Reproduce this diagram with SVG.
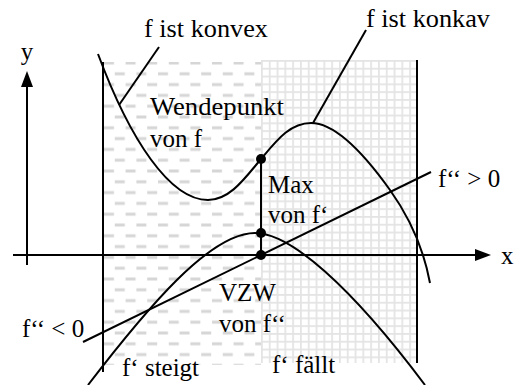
<svg xmlns="http://www.w3.org/2000/svg" width="522" height="385" viewBox="0 0 522 385">
<defs>
<pattern id="dash" patternUnits="userSpaceOnUse" x="103" y="63" width="21.6" height="21.6">
<rect x="1" y="-1.5" width="10" height="3" fill="#d6d6d6"/>
<rect x="1" y="20.1" width="10" height="3" fill="#d6d6d6"/>
<rect x="11.8" y="9.3" width="10" height="3" fill="#d6d6d6"/>
<rect x="-9.8" y="9.3" width="10" height="3" fill="#d6d6d6"/>
</pattern>
<pattern id="grid" patternUnits="userSpaceOnUse" x="261" y="60" width="7.8" height="7.8">
<rect width="7.8" height="7.8" fill="#e4e4e4"/>
<rect x="1.8" y="1.8" width="6" height="6" fill="#ffffff"/>
</pattern>
<marker id="arr" viewBox="0 0 16 12" refX="1" refY="6" markerWidth="16" markerHeight="12" markerUnits="userSpaceOnUse" orient="auto">
<path d="M0,0 L16,6 L0,12 z" fill="#000"/>
</marker>
</defs>
<style>
.ln{fill:none;stroke:#000;stroke-width:2}
.dot{fill:#000}
</style>
<rect width="522" height="385" fill="#fff"/>
<g id="regions">
<rect x="103" y="62" width="158" height="303" fill="url(#dash)"/>
<rect x="261" y="60" width="156" height="303" fill="url(#grid)"/>
</g>
<g id="axes">
<line class="ln" x1="13" y1="255" x2="476" y2="255" marker-end="url(#arr)"/>
<line class="ln" x1="27" y1="265" x2="27" y2="86" marker-end="url(#arr)"/>
<g font-family="Liberation Serif, DejaVu Serif, serif" font-size="25" fill="#000">
<text x="27" y="60" text-anchor="middle">y</text>
<text x="501" y="264">x</text>
</g>
</g>
<g id="connectors">
<line class="ln" x1="103" y1="62" x2="103" y2="372"/>
<line class="ln" x1="417" y1="60" x2="417" y2="363"/>
<line class="ln" x1="159" y1="47" x2="119" y2="105"/>
<line class="ln" x1="366" y1="30" x2="313" y2="123"/>
<line class="ln" x1="261" y1="159" x2="261" y2="255"/>
</g>
<g id="f">
<path class="ln" d="M98,54 C130,140 170,200 208,200 C230,200 245,178 261,159 C277,140 290,123 311,123 C335,123 365,155 390,190 C405,211 422,240 430,283"/>
</g>
<g id="f1">
<path class="ln" d="M88,385 C148,307 210,233 255,233 C290,233 350,285 425,385"/>
</g>
<g id="f2">
<line class="ln" x1="83" y1="342" x2="431" y2="172"/>
</g>
<g id="points">
<circle class="dot" cx="261" cy="159" r="5"/>
<circle class="dot" cx="261" cy="233" r="5"/>
<circle class="dot" cx="261" cy="255" r="5"/>
</g>
<g id="labels" font-family="Liberation Serif, DejaVu Serif, serif" font-size="25" fill="#000">
<text x="144" y="37" textLength="124" lengthAdjust="spacingAndGlyphs">f ist konvex</text>
<text x="366" y="27" textLength="124" lengthAdjust="spacingAndGlyphs">f ist konkav</text>
<text x="150" y="115" textLength="134" lengthAdjust="spacingAndGlyphs">Wendepunkt</text>
<text x="150" y="147">von f</text>
<text x="268" y="193">Max</text>
<text x="268" y="223">von f‘</text>
<text x="219" y="301">VZW</text>
<text x="219" y="332">von f‘‘</text>
<text x="22" y="337">f‘‘ &lt; 0</text>
<text x="438" y="187">f‘‘ &gt; 0</text>
<text x="122" y="376">f‘ steigt</text>
<text x="272" y="373">f‘ fällt</text>
</g>
</svg>
